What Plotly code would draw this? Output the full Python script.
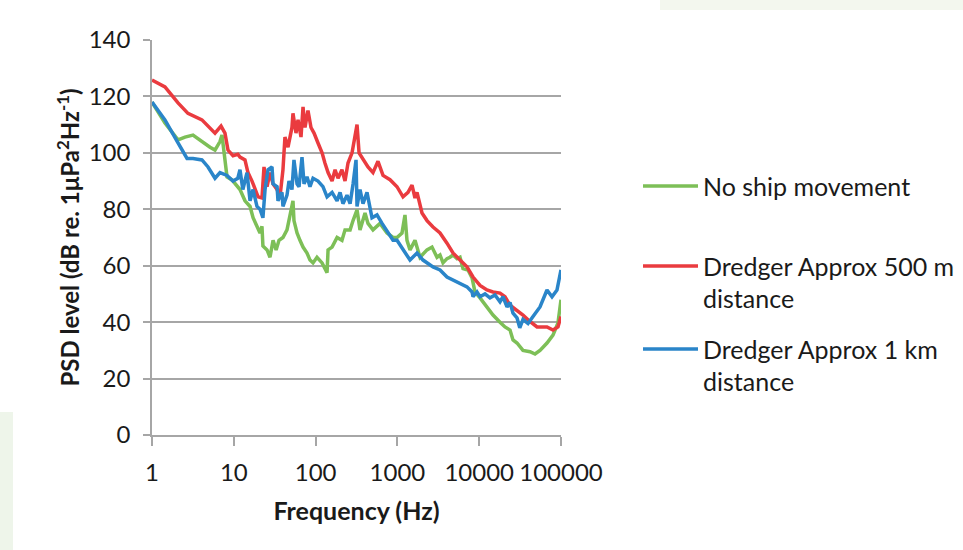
import plotly.graph_objects as go

# ---------------- data ----------------
freq_none = [1, 1.44, 2.08, 2.53, 3.17, 4.08, 5.12, 5.89, 6.78, 7.17, 7.80, 8.26, 9.51, 11.2, 11.9,
             13.7, 15.8, 17.2, 19.2, 20.9, 22.1, 22.7, 25.5, 27.7, 30.2, 32.9, 35.7, 39.9, 44.7,
             48.7, 52.9, 54.4, 59.3, 64.4, 70.2, 78.5, 85.4, 93.0, 104, 120, 130, 138, 142, 159,
             183, 210, 229, 264, 287, 321, 349, 402, 437, 503, 613, 746, 884, 989, 1138, 1238,
             1310, 1426, 1641, 1888, 2301, 2649, 3049, 3318, 3610, 4040, 4390, 4783, 5353, 5825,
             6339, 7290, 8180, 8880, 10230, 12450, 14750, 17960, 20670, 23810, 25900, 28990,
             34290, 41790, 48110, 55360, 67420, 79800, 91840, 100000]
db_none = [118, 110.6, 104.6, 105.6, 106.3, 103.9, 102, 101, 104, 106.3, 98.5, 91.5, 90.4, 88, 87,
           83, 81, 77, 73.7, 71.6, 74, 67, 65.6, 63, 69, 65.6, 69, 70, 72.7,
           78.7, 83, 76, 71.6, 69, 66.6, 64.5, 62, 61, 63, 61, 59, 57.5, 65.6, 66.6,
           70, 69, 72.7, 72.7, 76, 79.8, 72.7, 78.7, 75, 72.7, 75, 71.6, 70, 70, 71.6, 78,
           69, 65.6, 69, 63, 65.6, 66.6, 63, 63.8, 61, 62.5, 63, 63.8, 62.5, 63,
           59, 58.5, 55.7, 50.7, 48.6, 45.4, 42.5, 40, 38.3, 37.2, 33.7, 32.6,
           30, 29.5, 28.7, 30, 32.6, 35.4, 39.7, 47.9]

freq_500m = [1, 1.25, 1.44, 2.08, 2.75, 4.08, 5.89, 6.98, 7.80, 8.49, 9.78, 11.2, 11.9, 13.7, 14.9,
             16.7, 18.2, 19.8, 22.1, 23.4, 25.5, 27.7, 30.2, 33.8, 36.7, 39.9, 42.2, 46.0, 51.4,
             52.9, 57.6, 61.0, 66.3, 70.2, 74.2, 80.7, 87.8, 95.7, 107, 120, 130, 142, 159, 173,
             188, 210, 229, 249, 279, 303, 321, 340, 380, 437, 503, 579, 667, 812, 989, 1171,
             1348, 1509, 1641, 1737, 1998, 2301, 2725, 3318, 4040, 4783, 5825, 7091, 8399,
             10230, 12450, 14750, 17960, 20670, 23810, 28990, 34290, 39520, 50920, 67420,
             79800, 91840, 100000]
db_500m = [125.8, 124.4, 123.4, 117.7, 114, 111.7, 107, 109.5, 107, 101, 99, 99.5, 98.5, 97.5, 93,
           90, 87, 84.4, 84, 95, 88, 93, 89, 87, 84.4, 94, 105.6, 102, 109,
           114, 107, 111.7, 105.6, 116.3, 109, 115, 109, 107, 103.5, 100, 96.4, 93, 90, 94,
           91, 94, 90, 96.4, 100, 107, 110, 100, 97.5, 95, 93, 97, 92, 90.5, 88, 84.4,
           86, 88.6, 84, 86, 78.7, 76, 73.7, 71.6, 68, 64.5, 62, 59.6, 56,
           53, 51.4, 50.7, 50.3, 49, 46, 44.3, 42.5, 40.8, 38.3, 38.3,
           37.2, 38.3, 42]

freq_1km = [1, 1.44, 2.08, 2.68, 3.17, 4.08, 4.84, 5.89, 6.78, 8.26, 9.78, 11.2, 11.9, 12.9, 14.5,
            15.8, 17.2, 19.2, 20.9, 22.7, 24.1, 26.2, 29.3, 30.2, 33.8, 34.7, 38.8, 39.9, 44.7,
            47.3, 51.4, 54.4, 59.3, 62.7, 68.2, 72.2, 78.5, 85.4, 93.0, 107, 123, 138, 159, 183,
            199, 216, 242, 264, 287, 312, 321, 349, 380, 425, 489, 563, 649, 767, 884, 989,
            1171, 1426, 1737, 2056, 2725, 3318, 4040, 4783, 5825, 7091, 8180, 8399, 9397, 10230,
            11770, 13540, 15610, 17960, 19540, 21870, 23810, 25900, 28990, 31340, 34290, 37570,
            39520, 45490, 55360, 67420, 77620, 89300, 97200, 100000]
db_1km = [118, 111.7, 103.5, 98, 98, 97.5, 95, 91, 93, 92, 90, 91, 94, 87, 93,
          83, 87, 81, 80, 77, 87, 94, 95, 89, 88, 83, 86, 81, 85,
          90, 87, 97.5, 89, 88, 98.5, 89, 91.5, 88, 91, 90, 88, 84.4, 86, 83,
          86, 82, 85, 82, 89, 97.5, 81, 87, 82, 86, 77, 78, 75, 71.6, 69, 69,
          65.6, 62, 64.5, 62, 59.6, 58.5, 56, 55, 53.9, 52.5, 50.7, 49, 50.7, 49,
          50, 48.6, 49.6, 47.2, 49, 45.4, 47, 43.2, 41.5, 38, 41, 40,
          39.5, 42, 45.4, 51.4, 49, 51.4, 56, 58.5]

series_names = ["No ship movement", "Dredger Approx 500 m<br>distance", "Dredger Approx 1 km<br>distance"]
series_colors = ["#7DBF57", "#EA3B3F", "#2A85C9"]
x_tick_vals = [1, 10, 100, 1000, 10000, 100000]
x_tick_text = ["1", "10", "100", "1000", "10000", "100000"]
y_tick_vals = [0, 20, 40, 60, 80, 100, 120, 140]

FONT = "Lato"
GRID = "#A6A6A6"
TXT = "#1a1a1a"

fig = go.Figure()
data_sets = [(freq_none, db_none), (freq_500m, db_500m), (freq_1km, db_1km)]
for (fx, fy), name, col in zip(data_sets, series_names, series_colors):
    fig.add_trace(go.Scatter(x=fx, y=fy, mode="lines", name=name.replace("<br>", " "),
                             line=dict(color=col, width=3.5), showlegend=False))

# manual legend (Excel-style, symbol aligned to first text line)
PX_W, PX_H, L, T = 409.0, 395.0, 152.0, 40.0
def px2paper(px, py):
    return (px - L) / PX_W, 1 - (py - T) / PX_H
leg_rows = [(186, 0), (266, 1), (349, 2)]
for py, idx in leg_rows:
    x0, y0 = px2paper(643, py)
    x1, _ = px2paper(698, py)
    fig.add_shape(type="line", xref="paper", yref="paper", x0=x0, x1=x1, y0=y0, y1=y0,
                  line=dict(color=series_colors[idx], width=3.5))
    for k, txt in enumerate(series_names[idx].split("<br>")):
        tx, ty = px2paper(701, py + k * 32)
        fig.add_annotation(xref="paper", yref="paper", x=tx, y=ty, text=txt, showarrow=False,
                           xanchor="left", yanchor="middle", font=dict(family=FONT, size=25, color=TXT))

# faint decorative background shapes
fig.add_shape(type="rect", xref="paper", yref="paper", x0=px2paper(660, 0)[0], x1=px2paper(963, 0)[0],
              y0=px2paper(0, 10)[1], y1=px2paper(0, 0)[1], fillcolor="#F3F7EE", line_width=0, layer="below")
fig.add_shape(type="rect", xref="paper", yref="paper", x0=px2paper(0, 0)[0], x1=px2paper(13, 0)[0],
              y0=px2paper(0, 550)[1], y1=px2paper(0, 412)[1], fillcolor="#EEF5EA", line_width=0, layer="below")

fig.update_layout(
    width=963, height=550,
    margin=dict(l=152, r=402, t=40, b=115),
    paper_bgcolor="white", plot_bgcolor="white",
    font=dict(family=FONT, size=24, color=TXT),
    showlegend=False,
)
fig.update_xaxes(type="log", range=[0, 5], tickvals=x_tick_vals, ticktext=x_tick_text,
                 showgrid=False, showline=True, linecolor=GRID, linewidth=1.5,
                 ticks="outside", ticklen=9, tickcolor=GRID, tickwidth=1.5,
                 tickfont=dict(family=FONT, size=24, color=TXT), ticklabelstandoff=6,
                 title=dict(text="<b>Frequency (Hz)</b>", font=dict(family=FONT, size=25, color=TXT), standoff=18),
                 zeroline=False)
fig.update_yaxes(range=[0, 140], tickvals=y_tick_vals,
                 showgrid=True, gridcolor=GRID, gridwidth=1.5,
                 showline=True, linecolor=GRID, linewidth=1.5,
                 ticks="outside", ticklen=7, tickcolor=GRID, tickwidth=1.5,
                 tickfont=dict(family=FONT, size=24, color=TXT), ticklabelstandoff=8,
                 title=dict(text="<b>PSD level (dB re. 1μPa<sup>2</sup>Hz<sup>-1</sup>)</b>",
                            font=dict(family=FONT, size=24, color=TXT), standoff=2),
                 zeroline=False)

fig.write_html("out.html")
